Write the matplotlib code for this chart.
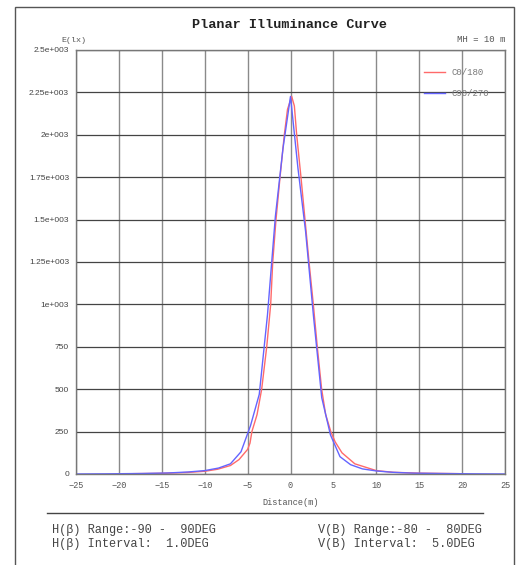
import matplotlib.pyplot as plt
from matplotlib.patches import Rectangle
from matplotlib.lines import Line2D

# C0/180 curve (red)
red_x = [-18.3, -15.0, -12.0, -10.0, -8.5, -7.0, -6.0, -5.0, -4.72, -4.5, -3.9, -3.36,
         -2.77, -2.31, -2.07, -1.69, -1.22, -0.72, -0.35, 0.14, 0.45, 0.72, 1.22,
         1.69, 2.16, 2.66, 3.12, 3.63, 4.1, 4.7, 5.2, 6.0, 7.5, 10.0, 12.0, 15.0, 19.6]
red_y = [2, 4, 9, 16, 28, 50, 85, 145, 182, 250, 350, 500,
         750, 1000, 1250, 1500, 1750, 2000, 2150, 2226, 2170, 2000, 1750,
         1500, 1250, 1000, 750, 500, 350, 250, 190, 125, 60, 20, 10, 5, 2]

# C90/270 curve (blue), 5 degree steps
blue_x = [-25.0, -21.4, -17.3, -14.3, -11.9, -10.0, -8.39, -7.0, -5.77, -4.66, -3.64,
          -2.68, -1.76, -0.875, 0.0, 0.875, 1.76, 2.68, 3.64, 4.66, 5.77, 7.0,
          8.39, 10.0, 11.9, 14.3, 17.3, 21.4, 25.0]
blue_y = [0, 1, 3, 6, 12, 20, 35, 60, 131, 285, 470,
          940, 1520, 1920, 2226, 1800, 1430, 930, 450, 230, 102, 55,
          30, 18, 10, 5, 3, 1, 0]

x_ticks = [-25, -20, -15, -10, -5, 0, 5, 10, 15, 20, 25]
y_ticks = [0, 250, 500, 750, 1000, 1250, 1500, 1750, 2000, 2250, 2500]
y_labels = ['0', '250', '500', '750', '1e+003', '1.25e+003', '1.5e+003',
            '1.75e+003', '2e+003', '2.25e+003', '2.5e+003']

mono = 'Liberation Mono'

fig = plt.figure(figsize=(5.21, 5.65), dpi=100)
ax = fig.add_axes([76 / 521, 91 / 565, 429 / 521, 424 / 565])

ax.plot(red_x, red_y, color='#ff6a6a', lw=1.0, label='C0/180')
ax.plot(blue_x, blue_y, color='#6464ff', lw=1.0, label='C90/270')

ax.set_xlim(-25, 25)
ax.set_ylim(0, 2500)
ax.set_xticks(x_ticks)
ax.set_yticks(y_ticks)
ax.set_yticklabels(y_labels, fontsize=6, family='Liberation Sans', color='#444')
for lbl in ax.get_xticklabels():
    lbl.set_family(mono)
    lbl.set_fontsize(6.2)
    lbl.set_color('#555')
ax.tick_params(length=0, pad=5)

ax.xaxis.grid(True, color='#8a8a8a', lw=1.0)
ax.yaxis.grid(True, color='#444', lw=0.9)
for s in ax.spines.values():
    s.set_color('#777')
    s.set_linewidth(1.0)

ax.set_xlabel('Distance(m)', family=mono, fontsize=6.2, color='#555', labelpad=6)

leg = ax.legend(loc='upper right', bbox_to_anchor=(0.981, 0.977), frameon=False,
                prop={'family': mono, 'size': 6.5}, handlelength=2.3,
                labelspacing=1.35, handletextpad=0.7)
for t in leg.get_texts():
    t.set_color('#777')

fig.text(290 / 521, 1 - 25 / 565, 'Planar Illuminance Curve', family=mono,
         fontsize=9.7, fontweight='bold', ha='center', va='center', color='#222')
fig.text(74 / 521, 1 - 40 / 565, 'E(lx)', family=mono, fontsize=6,
         ha='center', va='center', color='#555')
fig.text(505 / 521, 1 - 40 / 565, 'MH = 10 m', family=mono, fontsize=6.5,
         ha='right', va='center', color='#555')

# frame and separator
fig.patches.append(Rectangle((15 / 521, -0.02), 499 / 521, 1.02 - 7 / 565,
                             transform=fig.transFigure, fill=False,
                             edgecolor='#555', lw=1.0))
fig.lines.append(Line2D([47 / 521, 483 / 521], [1 - 513 / 565, 1 - 513 / 565],
                        transform=fig.transFigure, color='#444', lw=1.0))

fig.text(52 / 521, 1 - 530 / 565, 'H(β) Range:-90 -  90DEG', family=mono,
         fontsize=8.6, va='center', color='#444')
fig.text(52 / 521, 1 - 544 / 565, 'H(β) Interval:  1.0DEG', family=mono,
         fontsize=8.6, va='center', color='#444')
fig.text(318 / 521, 1 - 530 / 565, 'V(B) Range:-80 -  80DEG', family=mono,
         fontsize=8.6, va='center', color='#444')
fig.text(318 / 521, 1 - 544 / 565, 'V(B) Interval:  5.0DEG', family=mono,
         fontsize=8.6, va='center', color='#444')

fig.savefig('out.png', dpi=100)
plt.close(fig)
